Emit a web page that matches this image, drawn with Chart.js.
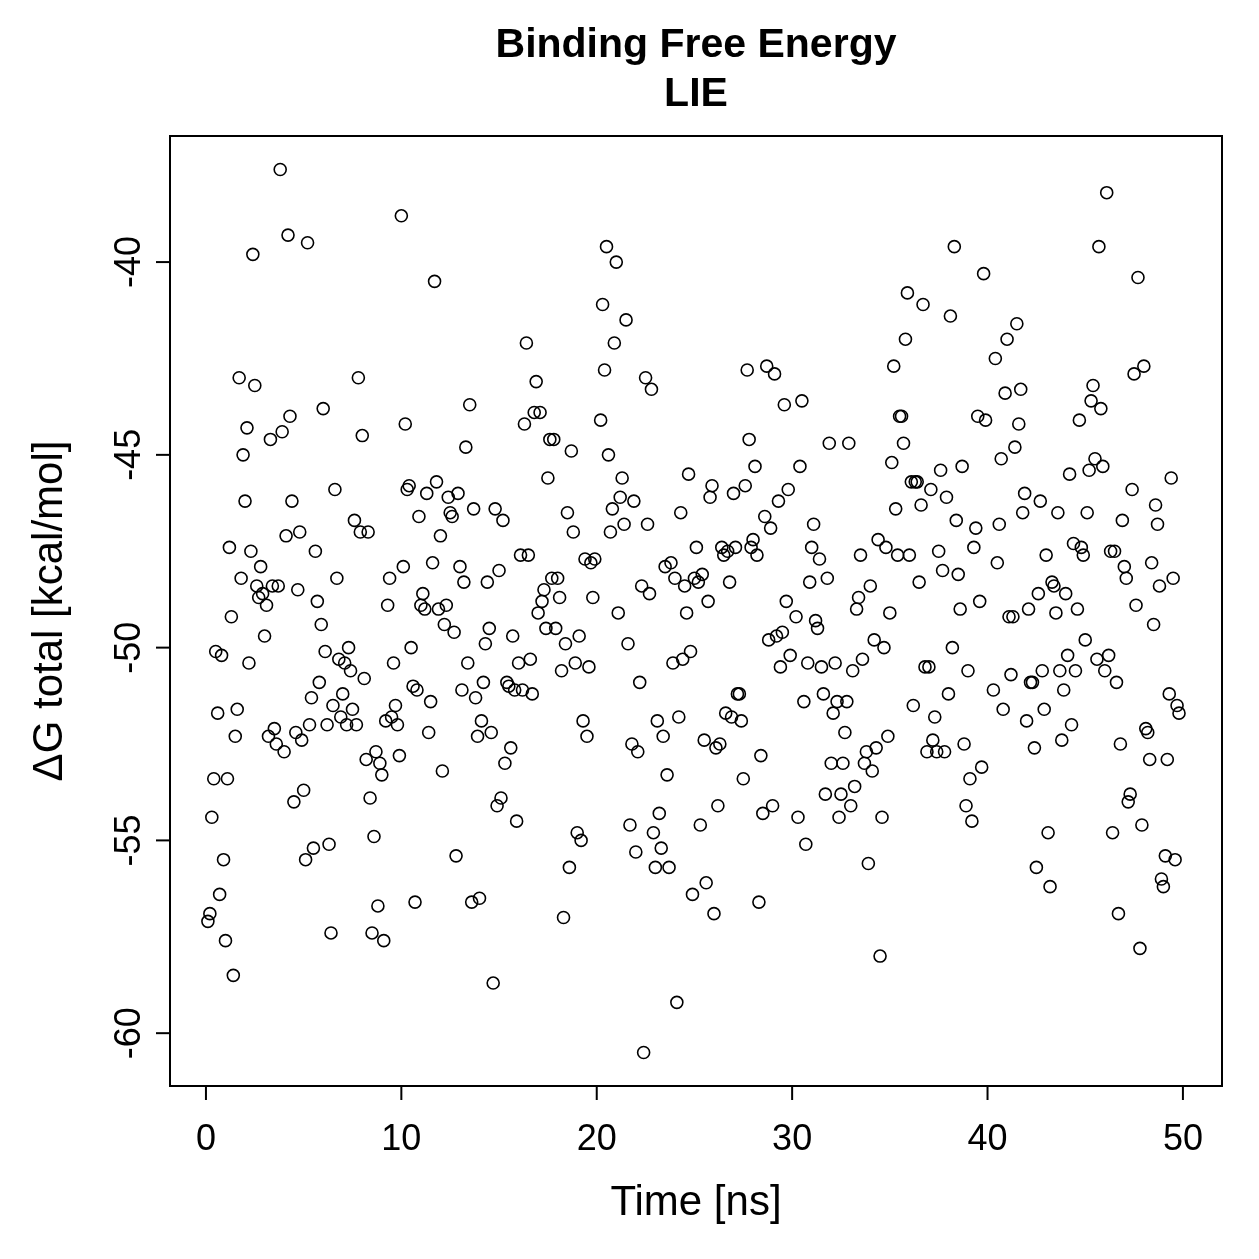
<!DOCTYPE html>
<html><head><meta charset="utf-8">
<script src="https://cdn.jsdelivr.net/npm/chart.js@4.4.1/dist/chart.umd.min.js"></script>
<style>html,body{margin:0;padding:0;background:#fff}canvas{display:block}</style>
</head><body>
<canvas id="c" width="1259" height="1259"></canvas>
<script>
const titleLines = ['Binding Free Energy', 'LIE'];
const xTitle = 'Time [ns]';
const yTitle = 'ΔG total [kcal/mol]';
const xTicks = [0, 10, 20, 30, 40, 50];
const yTicks = [-60, -55, -50, -45, -40];
const xRange = [-1.84, 52.0];
const yRange = [-61.37, -36.73];

const time0to20 = [
0.1,0.2,0.3,0.4,0.5,0.6,0.7,0.8,0.9,1.0,
1.1,1.2,1.3,1.4,1.5,1.6,1.7,1.8,1.9,2.0,
2.1,2.2,2.3,2.4,2.5,2.6,2.7,2.8,2.9,3.0,
3.1,3.2,3.3,3.4,3.5,3.6,3.7,3.8,3.9,4.0,
4.1,4.2,4.3,4.4,4.5,4.6,4.7,4.8,4.9,5.0,
5.1,5.2,5.3,5.4,5.5,5.6,5.7,5.8,5.9,6.0,
6.1,6.2,6.3,6.4,6.5,6.6,6.7,6.8,6.9,7.0,
7.1,7.2,7.3,7.4,7.5,7.6,7.7,7.8,7.9,8.0,
8.1,8.2,8.3,8.4,8.5,8.6,8.7,8.8,8.9,9.0,
9.1,9.2,9.3,9.4,9.5,9.6,9.7,9.8,9.9,10.0,
10.1,10.2,10.3,10.4,10.5,10.6,10.7,10.8,10.9,11.0,
11.1,11.2,11.3,11.4,11.5,11.6,11.7,11.8,11.9,12.0,
12.1,12.2,12.3,12.4,12.5,12.6,12.7,12.8,12.9,13.0,
13.1,13.2,13.3,13.4,13.5,13.6,13.7,13.8,13.9,14.0,
14.1,14.2,14.3,14.4,14.5,14.6,14.7,14.8,14.9,15.0,
15.1,15.2,15.3,15.4,15.5,15.6,15.7,15.8,15.9,16.0,
16.1,16.2,16.3,16.4,16.5,16.6,16.7,16.8,16.9,17.0,
17.1,17.2,17.3,17.4,17.5,17.6,17.7,17.8,17.9,18.0,
18.1,18.2,18.3,18.4,18.5,18.6,18.7,18.8,18.9,19.0,
19.1,19.2,19.3,19.4,19.5,19.6,19.7,19.8,19.9];
const dG0to20 = [
-57.1,-56.9,-54.4,-53.4,-50.1,-51.7,-56.4,-50.2,-55.5,-57.6,
-53.4,-47.4,-49.2,-58.5,-52.3,-51.6,-43.0,-48.2,-45.0,-46.2,
-44.3,-50.4,-47.5,-39.8,-43.2,-48.4,-48.7,-47.9,-48.6,-49.7,
-48.9,-52.3,-44.6,-48.4,-52.1,-52.5,-48.4,-37.6,-44.4,-52.7,
-47.1,-39.3,-44.0,-46.2,-54.0,-52.2,-48.5,-47.0,-52.4,-53.7,
-55.5,-39.5,-52.0,-51.3,-55.2,-47.5,-48.8,-50.9,-49.4,-43.8,
-50.1,-52.0,-55.1,-57.4,-51.5,-45.9,-48.2,-50.3,-51.8,-51.2,
-50.4,-52.0,-50.0,-50.6,-51.6,-46.7,-52.0,-43.0,-47.0,-44.5,
-50.8,-52.9,-47.0,-53.9,-57.4,-54.9,-52.7,-56.7,-53.0,-53.3,
-57.6,-51.9,-48.9,-48.2,-51.8,-50.4,-51.5,-52.0,-52.8,-38.8,
-47.9,-44.2,-45.9,-45.8,-50.0,-51.0,-56.6,-51.1,-46.6,-48.9,
-48.6,-49.0,-46.0,-52.2,-51.4,-47.8,-40.5,-45.7,-49.0,-47.1,
-53.2,-49.4,-48.9,-46.1,-46.5,-46.6,-49.6,-55.4,-46.0,-47.9,
-51.1,-48.3,-44.8,-50.4,-43.7,-56.6,-46.4,-51.3,-52.3,-56.5,
-51.9,-50.9,-49.9,-48.3,-49.5,-52.2,-58.7,-46.4,-54.1,-48.0,
-53.9,-46.7,-53.0,-50.9,-51.0,-52.6,-49.7,-51.1,-54.5,-50.4,
-47.6,-51.1,-44.2,-42.1,-47.6,-50.3,-51.2,-43.9,-43.1,-49.1,
-43.9,-48.8,-48.5,-49.5,-45.6,-44.6,-48.2,-44.6,-49.5,-48.2,
-48.7,-50.6,-57.0,-49.9,-46.5,-55.7,-44.9,-47.0,-50.4,-54.8,
-49.7,-55.0,-51.9,-47.7,-52.3,-50.5,-47.8,-48.7,-47.7];

const time20to30 = [
20.2,20.3,20.4,20.5,20.6,20.7,20.8,20.9,21.0,21.1,
21.2,21.3,21.4,21.5,21.6,21.7,21.8,21.9,22.0,22.1,
22.2,22.3,22.4,22.5,22.6,22.7,22.8,22.9,23.0,23.1,
23.2,23.3,23.4,23.5,23.6,23.7,23.8,23.9,24.0,24.1,
24.2,24.3,24.4,24.5,24.6,24.7,24.8,24.9,25.0,25.1,
25.2,25.3,25.4,25.5,25.6,25.7,25.8,25.9,26.0,26.1,
26.2,26.3,26.4,26.5,26.6,26.7,26.8,26.9,27.0,27.1,
27.2,27.3,27.4,27.5,27.6,27.7,27.8,27.9,28.0,28.1,
28.2,28.3,28.4,28.5,28.6,28.7,28.8,28.9,29.0,29.1,
29.2,29.3,29.4,29.5,29.6,29.7,29.8,29.9];
const dG20to30 = [
-44.1,-41.1,-42.8,-39.6,-45.0,-47.0,-46.4,-42.1,-40.0,-49.1,
-46.1,-45.6,-46.8,-41.5,-49.9,-54.6,-52.5,-46.2,-55.3,-52.7,
-50.9,-48.4,-60.5,-43.0,-46.8,-48.6,-43.3,-54.8,-55.7,-51.9,
-54.3,-55.2,-52.3,-47.9,-53.3,-55.7,-47.8,-50.4,-48.2,-59.2,
-51.8,-46.5,-50.3,-48.4,-49.1,-45.5,-50.1,-56.4,-48.2,-47.4,
-48.3,-54.6,-48.1,-52.4,-56.1,-48.8,-46.1,-45.8,-56.9,-52.6,
-54.1,-52.5,-47.4,-47.6,-51.7,-47.5,-48.3,-51.8,-46.0,-47.4,
-51.2,-51.2,-51.9,-53.4,-45.8,-42.8,-44.6,-47.4,-47.2,-45.3,
-47.6,-56.6,-52.8,-54.3,-46.6,-42.7,-49.8,-46.9,-54.1,-42.9,
-49.7,-46.2,-50.5,-49.6,-43.7,-48.8,-45.9,-50.2];

const time30to40 = [
30.2,30.3,30.4,30.5,30.6,30.7,30.8,30.9,31.0,31.1,
31.2,31.3,31.4,31.5,31.6,31.7,31.8,31.9,32.0,32.1,
32.2,32.3,32.4,32.5,32.6,32.7,32.8,32.9,33.0,33.1,
33.2,33.3,33.4,33.5,33.6,33.7,33.8,33.9,34.0,34.1,
34.2,34.3,34.4,34.5,34.6,34.7,34.8,34.9,35.0,35.1,
35.2,35.3,35.4,35.5,35.6,35.7,35.8,35.9,36.0,36.1,
36.2,36.3,36.4,36.5,36.6,36.7,36.8,36.9,37.0,37.1,
37.2,37.3,37.4,37.5,37.6,37.7,37.8,37.9,38.0,38.1,
38.2,38.3,38.4,38.5,38.6,38.7,38.8,38.9,39.0,39.1,
39.2,39.3,39.4,39.5,39.6,39.7,39.8,39.9];
const dG30to40 = [
-49.2,-54.4,-45.3,-43.6,-51.4,-55.1,-50.4,-48.3,-47.4,-46.8,
-49.3,-49.5,-47.7,-50.5,-51.2,-53.8,-48.2,-44.7,-53.0,-51.7,
-50.4,-51.4,-54.4,-53.8,-53.0,-52.2,-51.4,-44.7,-54.1,-50.6,
-53.6,-49.0,-48.7,-47.6,-50.3,-53.0,-52.7,-55.6,-48.4,-53.2,
-49.8,-52.6,-47.2,-58.0,-54.4,-50.0,-47.4,-52.3,-49.1,-45.2,
-42.7,-46.4,-47.6,-44.0,-44.0,-44.7,-42.0,-40.8,-47.6,-45.7,
-51.5,-45.7,-45.7,-48.3,-46.3,-41.1,-50.5,-52.7,-50.5,-45.9,
-52.4,-51.8,-52.7,-47.5,-45.4,-48.0,-52.7,-46.1,-51.2,-41.4,
-50.0,-39.6,-46.7,-48.1,-49.0,-45.3,-52.5,-54.1,-50.6,-53.4,
-54.5,-47.4,-46.9,-44.0,-48.8,-53.1,-40.3,-44.1];

const time40to50 = [
40.3,40.4,40.5,40.6,40.7,40.8,40.9,41.0,41.1,41.2,
41.3,41.4,41.5,41.6,41.7,41.8,41.9,42.0,42.1,42.2,
42.3,42.4,42.5,42.6,42.7,42.8,42.9,43.0,43.1,43.2,
43.3,43.4,43.5,43.6,43.7,43.8,43.9,44.0,44.1,44.2,
44.3,44.4,44.5,44.6,44.7,44.8,44.9,45.0,45.1,45.2,
45.3,45.4,45.5,45.6,45.7,45.8,45.9,46.0,46.1,46.2,
46.3,46.4,46.5,46.6,46.7,46.8,46.9,47.0,47.1,47.2,
47.3,47.4,47.5,47.6,47.7,47.8,47.9,48.0,48.1,48.2,
48.3,48.4,48.5,48.6,48.7,48.8,48.9,49.0,49.1,49.2,
49.3,49.4,49.5,49.6,49.7,49.8];
const dG40to50 = [
-51.1,-42.5,-47.8,-46.8,-45.1,-51.6,-43.4,-42.0,-49.2,-50.7,
-49.2,-44.8,-41.6,-44.2,-43.3,-46.5,-46.0,-51.9,-49.0,-50.9,
-50.9,-52.6,-55.7,-48.6,-46.2,-50.6,-51.6,-47.6,-54.8,-56.2,
-48.3,-48.4,-49.1,-46.5,-50.6,-52.4,-51.1,-48.6,-50.2,-45.5,
-52.0,-47.3,-50.6,-49.0,-44.1,-47.4,-47.6,-49.8,-46.5,-45.4,
-43.6,-43.2,-45.1,-50.3,-39.6,-43.8,-45.3,-50.6,-38.2,-50.2,
-47.5,-54.8,-47.5,-50.9,-56.9,-52.5,-46.7,-47.9,-48.2,-54.0,
-53.8,-45.9,-42.9,-48.9,-40.4,-57.8,-54.6,-42.7,-52.1,-52.2,
-52.9,-47.8,-49.4,-46.3,-46.8,-48.4,-56.0,-56.2,-55.4,-52.9,
-51.2,-45.6,-48.2,-55.5,-51.5,-51.7];

const times = time0to20.concat(time20to30, time30to40, time40to50);
const dG = dG0to20.concat(dG20to30, dG30to40, dG40to50);
const points = times.map((t, i) => ({ x: t, y: dG[i] }));

const FONT = '"Liberation Sans", Arial, Helvetica, sans-serif';

const rAxes = {
  id: 'rAxes',
  afterDraw(chart) {
    const ctx = chart.ctx;
    const a = chart.chartArea;
    const xs = chart.scales.x, ys = chart.scales.y;
    ctx.save();
    ctx.strokeStyle = '#000';
    ctx.fillStyle = '#000';
    ctx.lineWidth = 2;
    ctx.strokeRect(a.left, a.top, a.right - a.left, a.bottom - a.top);
    const tl = 14;
    ctx.font = '36px ' + FONT;
    ctx.textAlign = 'center';
    ctx.textBaseline = 'middle';
    xTicks.forEach(v => {
      const px = xs.getPixelForValue(v);
      ctx.beginPath(); ctx.moveTo(px, a.bottom); ctx.lineTo(px, a.bottom + tl); ctx.stroke();
      ctx.fillText(String(v), px, 1140);
    });
    yTicks.forEach(v => {
      const py = ys.getPixelForValue(v);
      ctx.beginPath(); ctx.moveTo(a.left, py); ctx.lineTo(a.left - tl, py); ctx.stroke();
      ctx.save(); ctx.translate(130, py); ctx.rotate(-Math.PI / 2);
      ctx.fillText(String(v), 0, 0); ctx.restore();
    });
    ctx.font = '42px ' + FONT;
    ctx.fillText(xTitle, (a.left + a.right) / 2, 1203);
    ctx.save(); ctx.translate(50, (a.top + a.bottom) / 2); ctx.rotate(-Math.PI / 2);
    ctx.fillText(yTitle, 0, 0); ctx.restore();
    ctx.font = 'bold 41px ' + FONT;
    ctx.fillText(titleLines[0], (a.left + a.right) / 2, 46);
    ctx.fillText(titleLines[1], (a.left + a.right) / 2, 95);
    ctx.restore();
  }
};

new Chart(document.getElementById('c'), {
  type: 'scatter',
  data: { datasets: [{
    data: points,
    pointStyle: 'circle',
    pointRadius: 6,
    pointHoverRadius: 6,
    borderColor: '#000',
    backgroundColor: 'rgba(0,0,0,0)',
    borderWidth: 1.6
  }]},
  options: {
    responsive: false,
    animation: false,
    devicePixelRatio: 1,
    layout: { padding: { left: 170, top: 136, right: 37, bottom: 173 } },
    scales: {
      x: { type: 'linear', display: false, min: xRange[0], max: xRange[1] },
      y: { type: 'linear', display: false, min: yRange[0], max: yRange[1] }
    },
    plugins: { legend: { display: false }, tooltip: { enabled: false } }
  },
  plugins: [rAxes]
});
</script>
</body></html>
